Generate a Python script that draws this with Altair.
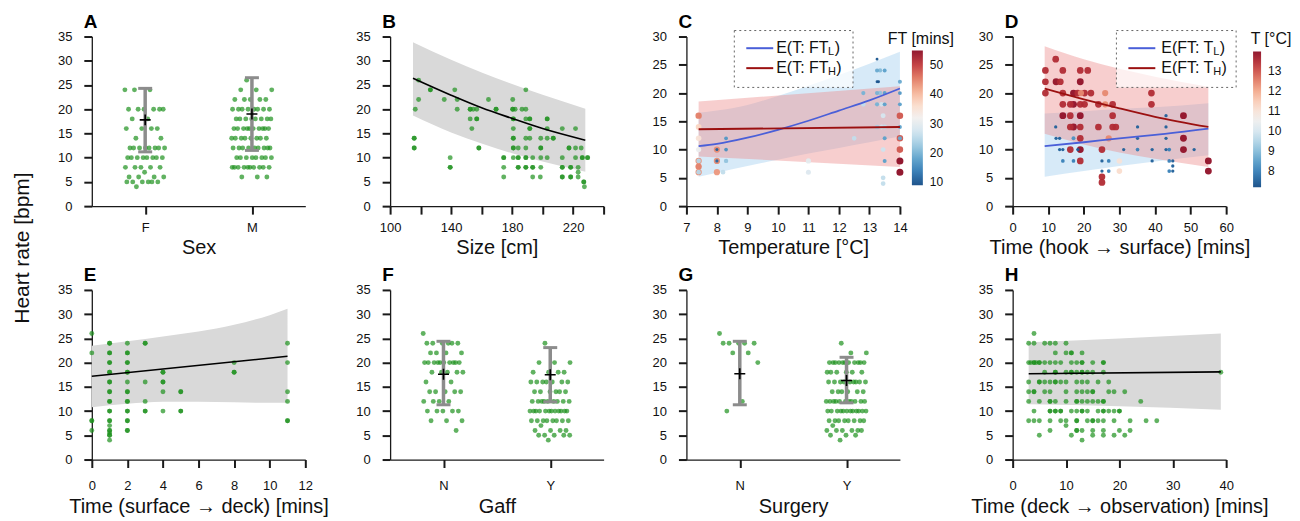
import altair as alt
import pandas as pd

FONT = "Liberation Sans"
GREEN = "#1e921e"
BAND_GREY = "#d9d9d9"
W, H = 214, 170

# ---------------- data: categorical panels ----------------
sex_labels = ["F", "M"]
hr_sex_F = [24, 24, 24, 20, 20, 20, 20, 20, 20, 18, 18, 16, 16, 16, 16, 14, 14,
            12, 12, 12, 12, 12, 12, 12, 12, 10, 10, 10, 10, 10, 10, 10, 10,
            8, 8, 8, 8, 8, 7, 6, 6, 6, 6, 5, 5, 5, 5, 5, 5, 4]
hr_sex_M = [26, 24, 24, 24, 22, 22, 22, 22, 22, 20, 20, 20, 20, 20, 20, 20, 20,
            18, 18, 18, 18, 18, 18, 18, 18, 16, 16, 16, 16, 16, 16, 16, 16, 16, 16,
            14, 14, 14, 14, 14, 14, 14, 14, 12, 12, 12, 12, 12, 12, 12, 12, 12,
            10, 10, 10, 10, 10, 10, 10, 10, 8, 8, 8, 8, 8, 8, 8, 8, 8, 8, 6, 6, 6]
sex_mean = [17.8, 19.0]
sex_lo = [11.2, 11.5]
sex_hi = [24.3, 26.5]

gaff_labels = ["N", "Y"]
hr_gaff_N = [26, 24, 24, 24, 24, 24, 24, 22, 22, 22, 22,
             20, 20, 20, 20, 20, 20, 20, 20, 20, 20, 18, 18, 18, 18, 18, 16, 16,
             14, 14, 14, 14, 14, 12, 12, 12, 12, 10, 10, 10, 10, 10, 8, 8, 8, 6]
hr_gaff_Y = [24, 20, 20, 20, 18, 18, 18, 18, 16, 16, 16, 16, 16, 16, 16,
             14, 14, 14, 14, 14, 14, 12, 12, 12, 12, 12, 12, 12, 12, 12,
             10, 10, 10, 10, 10, 10, 10, 10, 10, 10, 10, 10, 8, 8, 8, 8, 8, 8, 8, 8,
             7, 6, 6, 6, 6, 5, 5, 5, 5, 5, 4]
gaff_mean = [17.6, 17.5]
gaff_lo = [11.3, 11.9]
gaff_hi = [24.4, 23.1]

surg_labels = ["N", "Y"]
hr_surg_N = [26, 24, 24, 24, 24, 24, 22, 22, 20, 12, 10]
hr_surg_Y = [24, 22, 22, 20, 20, 20, 20, 20, 20, 20, 20, 20, 20, 20,
             18, 18, 18, 18, 18, 18, 16, 16, 16, 16, 16, 16, 16, 16, 16,
             14, 14, 14, 14, 14, 14, 12, 12, 12, 12, 12, 12, 12, 12, 12, 12, 12,
             10, 10, 10, 10, 10, 10, 10, 10, 10, 10, 10, 10, 8, 8, 8, 8, 8, 8, 8, 8,
             7, 6, 6, 6, 6, 6, 6, 5, 5, 5, 4]
surg_mean = [17.7, 16.3]
surg_lo = [11.3, 11.7]
surg_hi = [24.4, 21.1]

# ---------------- data: B (size) ----------------
b_size = [116.5, 118.7, 118.7, 115.8, 115.8, 115.8, 115.8, 126.4, 126.4, 135.5, 139.4, 139.4, 139.4, 142.4, 144.0, 144.0,
          152.5, 152.5, 154.5, 156.8, 152.5, 156.8, 156.8, 153.6, 158.2, 158.2, 164.5, 169.5, 169.5,
          174.5, 174.5, 174.5, 174.5,
          180.4, 180.4, 180.4, 182.0, 180.8, 180.8, 180.8, 180.8, 180.8, 180.8, 180.8, 180.8,
          184.0, 184.0, 184.0, 184.0, 184.0,
          186.5, 189.0, 189.0, 189.0, 191.6, 191.6, 191.6, 191.6, 189.0, 191.6, 189.0, 189.0, 189.0, 193.5, 189.0, 189.0, 193.5, 193.5, 193.5,
          198.8, 198.8, 198.8, 198.8, 203.0, 198.8, 198.5,
          203.0, 203.0, 203.0, 203.0, 207.0, 207.0,
          212.9, 212.9, 212.9, 212.9, 212.9, 212.9,
          217.3, 217.3, 221.6, 225.3, 218.4, 218.4, 218.4, 218.4,
          221.6, 221.6, 226.0, 226.0, 229.5, 229.5,
          223.3, 223.3, 223.3, 227.0, 227.0, 227.4]
b_hr = [20, 26, 22, 14, 14, 12, 12, 24, 24, 22, 10, 8, 8, 24, 22, 20,
        20, 20, 20, 20, 18, 18, 18, 16, 12, 12, 22, 20, 20,
        10, 10, 8, 6,
        22, 20, 20, 20, 18, 18, 16, 14, 14, 12, 12, 10,
        12, 10, 10, 8, 8,
        20, 20, 24, 18, 18, 18, 16, 16, 14, 14, 12, 10, 10, 10, 8, 8, 8, 8, 6,
        14, 12, 12, 10, 10, 8, 6,
        18, 18, 16, 14, 14, 14,
        16, 10, 8, 8, 6, 6,
        12, 12, 12, 12, 8, 8, 6, 6,
        16, 10, 10, 10, 10, 10,
        8, 7, 6, 5, 5, 4]
b_fit_x = [115, 140, 160, 180, 200, 228]
b_fit_y = [26.4, 22.9, 20.3, 18.1, 16.0, 13.6]
b_band_lo = [18.7, 15.2, 12.9, 10.9, 9.2, 7.1]
b_band_hi = [33.8, 30.2, 27.6, 25.2, 23.0, 20.1]

# ---------------- data: C (temperature, coloured by FT) ----------------
c_temp = [7.4, 7.4, 7.4, 7.4, 7.4, 7.4, 7.4, 7.4, 7.4,
          8.0, 8.0, 8.0, 8.0, 8.0,
          8.3, 8.3, 8.3, 8.2,
          11.0, 11.0, 12.5, 12.8, 12.8,
          13.25, 13.25, 13.35, 13.5, 13.25, 13.3,
          13.25, 13.35, 13.5, 13.25, 13.4, 13.5, 13.45,
          13.25, 13.4, 13.5, 13.5, 13.45, 13.5, 13.45, 13.45,
          14.0, 14.0, 14.0, 14.0, 14.0, 14.0, 14.0, 14.0, 14.0, 14.0]
c_hr = [16, 14, 12, 10, 8, 8, 7, 6, 6,
        10, 10, 8, 8, 6,
        12, 10, 8, 6,
        8, 6, 12, 20, 18,
        26, 24, 24, 24, 22, 22,
        20, 20, 20, 18, 18, 18, 16,
        14, 14, 14, 12, 10, 8, 5, 4,
        22, 20, 18, 16, 14, 12, 12, 10, 8, 6]
c_ft = [45, 37, 35, 31, 44, 25, 45, 44, 25,
        44, 11, 44, 12, 43,
        17, 16, 22, 26,
        30, 29, 26, 20, 26,
        10, 19, 21, 18, 10, 9.5,
        20, 22, 18, 20, 27, 18, 28,
        24, 27, 26, 18, 27, 18, 26, 26,
        19, 17, 18, 48, 18, 48, 19, 48, 55, 55]
c_fit_x = [7.4, 8, 9, 10, 11, 12, 13, 14]
c_fitL_y = [10.6, 11.0, 12.1, 13.5, 15.1, 16.9, 18.7, 20.8]
c_bandL_lo = [5.2, 5.9, 7.1, 8.2, 9.3, 10.3, 11.3, 12.3]
c_bandL_hi = [16.5, 16.9, 17.9, 19.5, 21.3, 23.2, 25.2, 27.3]
c_fitH_x = [7.4, 14]
c_fitH_y = [13.6, 14.0]
c_bandH_lo = [8.8, 6.9]
c_bandH_hi = [18.5, 21.2]

# ---------------- data: D (hook -> surface, coloured by T) ----------------
d_time = [9.2, 9.2, 9.2, 12.1, 12.2, 13.4, 14.1, 14.1, 14.1, 14.1,
          16.2, 17.1, 16.2, 16.2, 17.1, 16.2, 19.0, 21.1, 19.0,
          17.1, 18.3, 19.2, 20.2, 22.0, 19.0, 20.2, 19.0, 19.0, 19.0, 19.0, 19.0,
          24.1, 24.1, 25.1, 26.0, 26.0, 28.1, 28.1, 28.1, 29.0, 27.0,
          25.1, 25.1, 39.0, 39.0, 48.0, 48.0, 48.0, 55.0, 55.0, 30.0, 30.0,
          12.1, 12.2, 13.2, 13.2, 14.1, 14.1, 17.1, 17.1, 18.3,
          25.1, 27.0, 25.1, 27.0, 31.2, 35.1, 35.1, 35.1, 39.2, 39.2,
          43.1, 43.1, 43.1, 43.1, 44.0, 44.0, 45.0, 45.0, 44.0, 45.0, 51.0]
d_hr = [24, 22, 20, 26, 22, 22, 24, 20, 18, 16,
        18, 18, 16, 14, 14, 10, 24, 24, 22,
        20, 20, 20, 20, 20, 18, 18, 16, 14, 12, 10, 8,
        18, 14, 10, 20, 18, 18, 16, 14, 14, 12,
        5.2, 4.2, 20, 18, 16, 12, 10, 8, 6.2, 8, 6.2,
        14, 12, 12, 10, 10, 8, 8, 12, 10,
        8, 8, 6.2, 6.2, 10, 14, 12, 10, 10, 8,
        16, 14, 12, 10, 10, 8, 8, 7.1, 6.2, 6.2, 10]
d_temp = [13.5, 13.5, 13.5, 13.5, 13.9, 13.5, 13.5, 13.5, 13.5, 13.95,
          13.5, 13.95, 13.5, 13.5, 13.9, 13.5, 13.5, 13.5, 13.95,
          13.95, 13.5, 12.4, 13.5, 13.5, 13.5, 13.5, 13.95, 13.5, 13.5, 13.95, 13.5,
          13.5, 13.5, 13.5, 12.4, 12.4, 13.5, 13.5, 13.5, 13.5, 12.4,
          13.5, 13.5, 13.5, 13.5, 13.95, 13.95, 13.95, 13.95, 13.95, 11.0, 11.2,
          7.5, 7.5, 7.5, 7.5, 7.5, 8.0, 8.0, 8.3, 7.5,
          7.5, 8.0, 7.5, 8.0, 7.5, 7.5, 7.5, 8.0, 7.5, 7.5,
          7.5, 7.5, 7.5, 7.5, 8.0, 8.0, 7.5, 7.5, 8.0, 7.5, 7.5]
d_fit_x = [9, 20, 30, 40, 55]
d_fitL_y = [10.6, 11.3, 12.0, 12.6, 13.7]
d_fitH_y = [20.8, 18.9, 17.3, 15.8, 14.0]
d_bandL_lo = [5.2, 6.2, 7.1, 7.9, 9.0]
d_bandL_hi = [16.4, 16.8, 17.2, 17.5, 18.2]
d_bandH_lo = [12.8, 10.9, 9.5, 8.4, 6.9]
d_bandH_hi = [28.3, 26.0, 24.3, 22.9, 21.1]

# ---------------- data: E (surface -> deck) ----------------
e_hr_by_time = {
    0: [26, 22, 8, 8, 6],
    1: [24, 24, 22, 22, 20, 20, 18, 18, 16, 16, 14, 14, 12, 12, 10, 10, 8, 8, 7, 6, 6, 5.5, 5, 5, 4],
    2: [24, 22, 22, 20, 20, 18, 18, 16, 14, 14, 12, 12, 10, 10, 8, 8, 6, 6],
    3: [24, 24, 16, 12, 10, 10],
    4: [18, 18, 16, 16, 14, 10],
    5: [14, 14, 10, 10],
    8: [20, 18, 18],
    11: [24, 20, 14, 12, 8, 8],
}
e_fit_x = [0, 11]
e_fit_y = [17.2, 21.3]
e_band_x = [0, 2, 4, 6, 8, 10, 11]
e_band_lo = [10.8, 11.5, 11.9, 11.9, 11.8, 11.7, 11.7]
e_band_hi = [23.5, 24.4, 25.4, 26.4, 27.8, 29.8, 31.1]

# ---------------- data: H (deck -> observation) ----------------
h_time_by_hr = {
    26: [4],
    24: [3, 4, 6, 7, 8, 10],
    22: [8, 10, 11, 11, 13],
    20: [3, 3.4, 4, 4, 4.4, 5, 5, 6, 7, 8, 9, 11, 12, 13, 13, 15, 17, 17],
    18: [6, 8, 8, 10, 11, 11, 12, 13, 13, 14, 15, 17, 39],
    16: [3, 5, 5, 6, 7, 8, 8, 9, 10, 12, 13, 14, 16, 18],
    14: [3, 4, 4, 6, 7, 10, 12, 13, 14, 15, 15, 18, 19, 21],
    12: [3, 5, 7, 7, 8, 10, 12, 12, 13, 14, 15, 16, 17, 17, 24],
    10: [4, 7, 7, 8, 8, 9, 9, 11, 12, 13, 13, 14, 16, 17, 17, 18, 19, 20, 20],
    8: [3, 4, 5, 7, 9, 10, 12, 12, 14, 15, 15, 16, 17, 19, 22, 25, 27],
    7: [10],
    6: [7, 12, 12, 13, 15, 17, 20, 22],
    5: [5, 11, 15, 17, 19, 21],
    4: [13],
}
h_fit_x = [3, 39]
h_fit_y = [17.7, 18.1]
h_band_x = [3, 20, 39]
h_band_lo = [11.4, 11.0, 10.3]
h_band_hi = [24.2, 25.0, 26.0]


# ---------------- helpers ----------------
AX_COL = "#1a1a1a"
TICK_STYLE = dict(ticks=True, tickSize=8, tickColor=AX_COL, tickWidth=2, tickOpacity=1,
                  labelOverlap=False)
ROW1_X = dict(labelPadding=7, titlePadding=3)
ROW2_X = dict(labelPadding=12, titlePadding=4)


def yaxis(maxv):
    return alt.Axis(values=list(range(0, maxv + 1, 5)), title=None, labelPadding=12, **TICK_STYLE)


def enc(xfield, yfield, xsc, ysc, xax, yax):
    return dict(x=alt.X(xfield, scale=xsc, axis=xax), y=alt.Y(yfield, scale=ysc, axis=yax))


def panel_label(letter):
    return alt.Chart(pd.DataFrame({"t": [letter]})).mark_text(
        align="left", baseline="alphabetic", fontSize=19, fontWeight="bold",
        font=FONT, color="black"
    ).encode(x=alt.value(-8), y=alt.value(-9), text="t:N")


def jitter(groups, spread):
    xs, ys = [], []
    for gi, vals in enumerate(groups):
        for k, v in enumerate(vals):
            frac = (k * 0.6180339887 + 0.37 * gi) % 1.0
            xs.append(gi + 1 + (frac - 0.5) * 2 * spread)
            ys.append(v)
    return pd.DataFrame({"x": xs, "hr": ys})


def cat_panel(letter, labels, groups, means, los, his, title, xpad, extra=None, spread=0.19):
    pts = jitter(groups, spread)
    summ = pd.DataFrame({"x": [1, 2], "m": means, "lo": los, "hi": his})
    xsc = alt.Scale(domain=[0.5, 2.5])
    ysc = alt.Scale(domain=[0, 35])
    xax = alt.Axis(values=[1, 2], title=title, **TICK_STYLE, **xpad,
                   labelExpr=f"datum.value == 1 ? '{labels[0]}' : '{labels[1]}'")
    yax = yaxis(35)
    dots = alt.Chart(pts).mark_circle(size=24, color=GREEN, opacity=0.7).encode(
        **enc("x:Q", "hr:Q", xsc, ysc, xax, yax))
    base = alt.Chart(summ)
    bar = base.mark_rule(color="#8c8c8c", strokeWidth=3.5).encode(
        **enc("x:Q", "lo:Q", xsc, ysc, xax, yax), y2="hi:Q")
    cap_lo = base.mark_tick(orient="horizontal", size=14, thickness=3, color="#8c8c8c", opacity=1).encode(
        **enc("x:Q", "lo:Q", xsc, ysc, xax, yax))
    cap_hi = base.mark_tick(orient="horizontal", size=14, thickness=3, color="#8c8c8c", opacity=1).encode(
        **enc("x:Q", "hi:Q", xsc, ysc, xax, yax))
    cross = base.mark_point(shape="M-1,0L1,0M0,-1L0,1", size=121, filled=False, color="black",
                            strokeWidth=1.6, opacity=1).encode(
        **enc("x:Q", "m:Q", xsc, ysc, xax, yax))
    layers = [dots, bar, cap_lo, cap_hi, cross, panel_label(letter)]
    if extra is not None:
        layers += extra
    return alt.layer(*layers).properties(width=W, height=H)


def fit_panel(letter, pts, fit, band, xdom, xvals, xtitle, xpad, label_expr=None):
    xsc = alt.Scale(domain=xdom)
    ysc = alt.Scale(domain=[0, 35])
    if label_expr:
        xax = alt.Axis(values=xvals, title=xtitle, labelExpr=label_expr, **TICK_STYLE, **xpad)
    else:
        xax = alt.Axis(values=xvals, title=xtitle, **TICK_STYLE, **xpad)
    yax = yaxis(35)
    area = alt.Chart(band).mark_area(color=BAND_GREY, opacity=1, interpolate="monotone").encode(
        **enc("x:Q", "lo:Q", xsc, ysc, xax, yax), y2="hi:Q")
    dots = alt.Chart(pts).mark_circle(size=24, color=GREEN, opacity=0.7).encode(
        **enc("x:Q", "hr:Q", xsc, ysc, xax, yax))
    line = alt.Chart(fit).mark_line(color="black", strokeWidth=1.6, interpolate="monotone").encode(
        **enc("x:Q", "y:Q", xsc, ysc, xax, yax))
    return alt.layer(area, dots, line, panel_label(letter)).properties(width=W, height=H)


def line_legend(box_x, box_w, line_x, text_x, main_text, subs, colours):
    one = pd.DataFrame({"a": [0]})
    layers = [alt.Chart(one).mark_rect(fill="white", fillOpacity=0.7, stroke="#666",
                                       strokeDash=[2, 3], strokeWidth=1).encode(
        x=alt.value(box_x), x2=alt.value(box_x + box_w), y=alt.value(-6), y2=alt.value(51))]
    for i, (sub, col) in enumerate(zip(subs, colours)):
        yy = 11.7 + 20 * i
        layers.append(alt.Chart(one).mark_rule(color=col, strokeWidth=2).encode(
            x=alt.value(line_x), x2=alt.value(line_x + 27), y=alt.value(yy)))
        layers.append(alt.Chart(one).mark_text(align="left", baseline="middle", fontSize=16,
                                               font=FONT, color="#111").encode(
            x=alt.value(text_x), y=alt.value(yy), text=alt.value(main_text)))
        layers.append(alt.Chart(one).mark_text(align="left", baseline="middle", fontSize=11,
                                               font=FONT, color="#111").encode(
            x=alt.value(text_x + 52), y=alt.value(yy + 4), text=alt.value(sub)))
        sub_w = 6.6 if sub == "L" else 8.3
        layers.append(alt.Chart(one).mark_text(align="left", baseline="middle", fontSize=16,
                                               font=FONT, color="#111").encode(
            x=alt.value(text_x + 52 + sub_w), y=alt.value(yy), text=alt.value(")")))
    return layers


def free_text(txt, x, y, size, angle=0):
    return alt.Chart(pd.DataFrame({"t": [txt]})).mark_text(
        align="center", baseline="middle", fontSize=size, font=FONT, color="#111", angle=angle
    ).encode(x=alt.value(x), y=alt.value(y), text="t:N")


BLUE_LINE = "#4a5fd8"
RED_LINE = "#9b1010"


def colour_panel(letter, pts, xdom, xvals, ydom_max, xtitle, cdom, cvals, leg_x, leg_y, glen, gth,
                 cb_title, cb_tx, bandL, bandH, fitL, fitH, legend_layers):
    xsc = alt.Scale(domain=xdom)
    ysc = alt.Scale(domain=[0, ydom_max])
    xax = alt.Axis(values=xvals, title=xtitle, **TICK_STYLE, **ROW1_X)
    yax = yaxis(ydom_max)
    pts = pts.assign(s=pts["c"])
    aL = alt.Chart(bandL).mark_area(color="#9ccbee", opacity=0.4, interpolate="monotone").encode(
        **enc("x:Q", "lo:Q", xsc, ysc, xax, yax), y2="hi:Q")
    aH = alt.Chart(bandH).mark_area(color="#ec8a8a", opacity=0.42, interpolate="monotone").encode(
        **enc("x:Q", "lo:Q", xsc, ysc, xax, yax), y2="hi:Q")
    dots = alt.Chart(pts).mark_circle(opacity=0.95).encode(
        **enc("x:Q", "hr:Q", xsc, ysc, xax, yax),
        color=alt.Color("c:Q", scale=alt.Scale(scheme="redblue", reverse=True, domain=cdom),
                        legend=alt.Legend(type="gradient", orient="none", legendX=leg_x, legendY=leg_y,
                                          direction="vertical", gradientLength=glen,
                                          gradientThickness=gth, title=None, values=cvals,
                                          labelFontSize=12, labelFont=FONT, labelOffset=7,
                                          labelColor="#111", padding=0, gradientStrokeWidth=0,
                                          labelOverlap=False)),
        size=alt.Size("s:Q", scale=alt.Scale(domain=[cdom[0] - 0.37, cdom[1] + 0.41], range=[7, 50]),
                      legend=None),
        order=alt.Order("c:Q", sort="descending"))
    lL = alt.Chart(fitL).mark_line(color=BLUE_LINE, strokeWidth=1.8, interpolate="monotone").encode(
        **enc("x:Q", "y:Q", xsc, ysc, xax, yax))
    lH = alt.Chart(fitH).mark_line(color=RED_LINE, strokeWidth=1.8, interpolate="monotone").encode(
        **enc("x:Q", "y:Q", xsc, ysc, xax, yax))
    layers = [aL, aH, dots, lL, lH] + legend_layers + [free_text(cb_title, cb_tx, 2, 16), panel_label(letter)]
    return alt.layer(*layers).properties(width=W, height=H)


def spacer(w):
    return alt.Chart(pd.DataFrame({"v": [0]})).mark_point(opacity=0).encode(
        x=alt.X("v:Q", axis=None), y=alt.Y("v:Q", axis=None)).properties(width=w, height=H)


# ---------------- panels ----------------
panel_A = cat_panel("A", sex_labels, [hr_sex_F, hr_sex_M], sex_mean, sex_lo, sex_hi, "Sex", ROW1_X,
                    extra=[free_text("Heart rate [bpm]", -69, 212, 21, angle=270)])
panel_F = cat_panel("F", gaff_labels, [hr_gaff_N, hr_gaff_Y], gaff_mean, gaff_lo, gaff_hi, "Gaff", ROW2_X)
panel_G = cat_panel("G", surg_labels, [hr_surg_N, hr_surg_Y], surg_mean, surg_lo, surg_hi, "Surgery", ROW2_X)

panel_B = fit_panel(
    "B", pd.DataFrame({"x": b_size, "hr": b_hr}),
    pd.DataFrame({"x": b_fit_x, "y": b_fit_y}),
    pd.DataFrame({"x": b_fit_x, "lo": b_band_lo, "hi": b_band_hi}),
    [100, 240], list(range(100, 241, 20)), "Size [cm]", ROW1_X,
    label_expr="(datum.value - 100) % 40 == 0 ? datum.label : ''")

e_x, e_y = [], []
for t, vals in e_hr_by_time.items():
    for v in vals:
        e_x.append(t)
        e_y.append(v)
panel_E = fit_panel(
    "E", pd.DataFrame({"x": e_x, "hr": e_y}),
    pd.DataFrame({"x": e_fit_x, "y": e_fit_y}),
    pd.DataFrame({"x": e_band_x, "lo": e_band_lo, "hi": e_band_hi}),
    [0, 12], list(range(0, 13, 2)), "Time (surface \u2192 deck) [mins]", ROW2_X)

h_x, h_y = [], []
for v, times in h_time_by_hr.items():
    for t in times:
        h_x.append(t)
        h_y.append(v)
panel_H = fit_panel(
    "H", pd.DataFrame({"x": h_x, "hr": h_y}),
    pd.DataFrame({"x": h_fit_x, "y": h_fit_y}),
    pd.DataFrame({"x": h_band_x, "lo": h_band_lo, "hi": h_band_hi}),
    [0, 40], list(range(0, 41, 10)), "Time (deck \u2192 observation) [mins]", ROW2_X)

panel_C = colour_panel(
    "C", pd.DataFrame({"x": c_temp, "hr": c_hr, "c": c_ft}),
    [7, 14], list(range(7, 15)), 30, "Temperature [\u00b0C]",
    [9, 55], [10, 20, 30, 40, 50], 226, 14, 135, 11, "FT [mins]", 235,
    pd.DataFrame({"x": c_fit_x, "lo": c_bandL_lo, "hi": c_bandL_hi}),
    pd.DataFrame({"x": c_fitH_x, "lo": c_bandH_lo, "hi": c_bandH_hi}),
    pd.DataFrame({"x": c_fit_x, "y": c_fitL_y}),
    pd.DataFrame({"x": c_fitH_x, "y": c_fitH_y}),
    line_legend(48, 119, 60, 90, "E(T: FT", ["L", "H"], [BLUE_LINE, RED_LINE]))

panel_D = colour_panel(
    "D", pd.DataFrame({"x": d_time, "hr": d_hr, "c": d_temp}),
    [0, 60], list(range(0, 61, 10)), 30, "Time (hook \u2192 surface) [mins]",
    [7.2, 14], [8, 9, 10, 11, 12, 13], 241, 15, 136, 8, "T [\u00b0C]", 259,
    pd.DataFrame({"x": d_fit_x, "lo": d_bandL_lo, "hi": d_bandL_hi}),
    pd.DataFrame({"x": d_fit_x, "lo": d_bandH_lo, "hi": d_bandH_hi}),
    pd.DataFrame({"x": d_fit_x, "y": d_fitL_y}),
    pd.DataFrame({"x": d_fit_x, "y": d_fitH_y}),
    line_legend(104, 120, 116, 149, "E(FT: T", ["L", "H"], [BLUE_LINE, RED_LINE]))

chart = alt.concat(
    panel_A, spacer(65), panel_B, spacer(63), panel_C, spacer(93), panel_D,
    panel_E, spacer(65), panel_F, spacer(63), panel_G, spacer(93), panel_H,
    columns=7, spacing={"row": 84, "column": 10}, bounds="flush"
).resolve_scale(
    color="independent", size="independent"
).properties(
    padding={"left": 4, "top": 4, "right": 0, "bottom": 0}
).configure_view(stroke=None).configure_axis(
    grid=False, ticks=True, domainColor=AX_COL, domainWidth=1.3, tickColor=AX_COL, tickWidth=2,
    tickOpacity=1, tickSize=8, labelFont=FONT, labelFontSize=13, labelColor="#111", labelFlush=False,
    labelOverlap=False, labelPadding=7, titleFont=FONT, titleFontSize=20, titleFontWeight="normal",
    titleColor="#111", titlePadding=3
).configure_legend(labelFont=FONT)

chart.save("out.html", embed_options={"renderer": "svg", "actions": False})
